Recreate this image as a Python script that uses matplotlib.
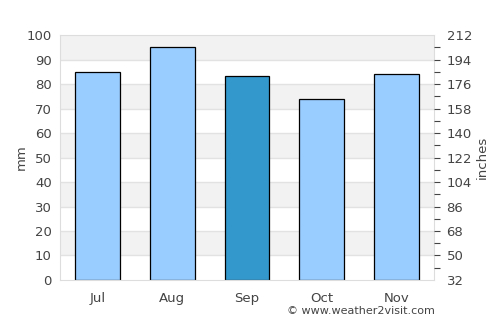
import matplotlib.pyplot as plt
from matplotlib.ticker import FixedLocator, MultipleLocator

months = ["Jul", "Aug", "Sep", "Oct", "Nov"]
rain_mm = [85, 95, 83.5, 74, 84]
highlight = "Sep"
right_labels = [32, 50, 68, 86, 104, 122, 140, 158, 176, 194, 212]

BAR_LIGHT = "#99ccff"
BAR_DARK = "#3399cc"
TEXT = "#444444"
GRID = "#dddddd"

fig = plt.figure(figsize=(5, 3.25), dpi=100)
ax = fig.add_axes([0.12, 0.1385, 0.748, 0.7535])

# alternating background bands
for lo in range(10, 100, 20):
    ax.axhspan(lo, lo + 10, color="#f2f2f2", zorder=0, lw=0)
for y in range(10, 100, 10):
    ax.axhline(y, color="#e2e2e2", lw=1, zorder=0.5)

colors = [BAR_DARK if m == highlight else BAR_LIGHT for m in months]
ax.bar(range(len(months)), rain_mm, width=0.6, color=colors,
       edgecolor="black", linewidth=0.9, zorder=2)

ax.set_xlim(-0.5, len(months) - 0.5)
ax.set_ylim(0, 100)
ax.set_xticks(range(len(months)))
ax.set_xticklabels(months)
ax.yaxis.set_major_locator(MultipleLocator(10))
ax.tick_params(axis="both", length=0, colors=TEXT, labelsize=9.5)
ax.tick_params(axis="x", pad=9)
ax.tick_params(axis="y", pad=6)
ax.set_ylabel("mm", color=TEXT, fontsize=9.5, labelpad=-1)
for s in ax.spines.values():
    s.set_color(GRID)

# secondary scale on the right
ax2 = ax.twinx()
ax2.set_ylim(right_labels[0], right_labels[-1])
ax2.yaxis.set_major_locator(FixedLocator(right_labels))
half = (right_labels[1] - right_labels[0]) / 2
minor = [v + half for v in right_labels[:-1]]
ax2.yaxis.set_minor_locator(FixedLocator(minor))
ax2.tick_params(axis="y", which="both", length=4, width=0.8, colors=TEXT,
                labelsize=9.5, pad=5)
ax2.set_ylabel("inches", color=TEXT, fontsize=9.5, labelpad=3)
for s in ax2.spines.values():
    s.set_visible(False)
# no tick marks at the two ends
ticks = ax2.yaxis.get_major_ticks()
for t in (ticks[0], ticks[-1]):
    t.tick2line.set_visible(False)

fig.text(0.87, 0.028, "© www.weather2visit.com", ha="right", va="bottom",
         color=TEXT, fontsize=8)

fig.savefig("out.png", dpi=100)
